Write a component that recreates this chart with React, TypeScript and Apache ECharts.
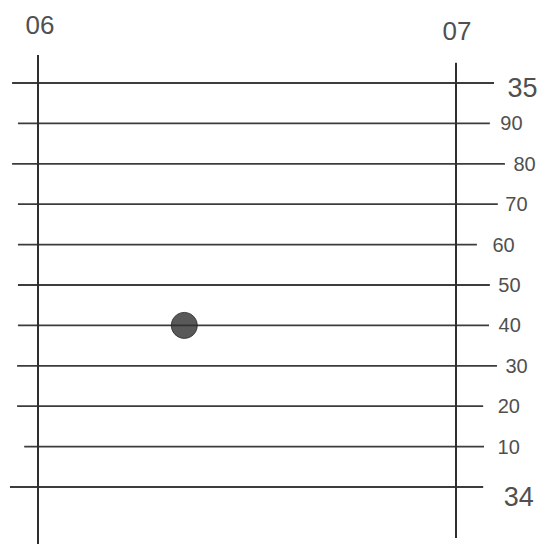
import React, { useEffect, useRef } from "react";
import * as echarts from "echarts";

// Vertical meridians (longitude labels)
const meridianValues = [6, 7];
const meridianLabels = ["06", "07"];
const meridianTop = [35.069, 35.05];
const meridianBottom = [33.859, 33.874];

// Horizontal parallels (latitude levels, top to bottom)
const parallelValues = [35, 34.9, 34.8, 34.7, 34.6, 34.5, 34.4, 34.3, 34.2, 34.1, 34];
const parallelLabels = ["35", "90", "80", "70", "60", "50", "40", "30", "20", "10", "34"];
const parallelStart = [5.938, 5.952, 5.938, 5.952, 5.952, 5.952, 5.952, 5.95, 5.95, 5.967, 5.933];
const parallelEnd = [7.091, 7.081, 7.117, 7.1, 7.05, 7.081, 7.079, 7.098, 7.065, 7.067, 7.065];
const labelGap = [13, 10, 8, 7, 15, 8, 9, 8, 14, 13, 20];

// Plotted position
const pointX = [6.35];
const pointY = [34.4];

export default function App() {
  const ref = useRef<HTMLDivElement>(null);

  useEffect(() => {
    if (!ref.current) return;
    const chart = echarts.init(ref.current, undefined, { renderer: "svg" });
    const textColor = "#505050";
    const font = "Liberation Sans";
    // axis ranges chosen so that 06..07 and 34..35 sit where the reference frame is
    const xMin = 6 - 38 / 418;
    const xMax = 6 + (545 - 38) / 418;
    const yMin = 34 - 57 / 404;
    const yMax = 35 + 83 / 404;

    const hidden = { color: "rgba(0,0,0,0)" };

    const parallelSeries = parallelValues.map((y, i) => {
      const major = i === 0 || i === parallelValues.length - 1;
      return {
        type: "line",
        symbol: "circle",
        symbolSize: 1,
        showSymbol: true,
        silent: true,
        itemStyle: hidden,
        label: { show: false },
        lineStyle: { color: "#3c3c3c", width: 1.8 },
        data: [
          [parallelStart[i], y],
          {
            value: [parallelEnd[i], y],
            label: {
              show: true,
              position: "right",
              distance: labelGap[i],
              formatter: parallelLabels[i],
              color: textColor,
              fontFamily: font,
              fontSize: major ? 27 : 20,
              offset: [0, i === 0 ? 5 : major ? 10 : 0],
            },
          },
        ],
      };
    });

    const meridianSeries = meridianValues.map((x, i) => ({
      type: "line",
      symbol: "circle",
      symbolSize: 1,
      showSymbol: true,
      silent: true,
      itemStyle: hidden,
      label: { show: false },
      lineStyle: { color: "#2e2e2e", width: 2 },
      data: [
        [x, meridianBottom[i]],
        {
          value: [x, meridianTop[i]],
          label: {
            show: true,
            position: "top",
            distance: i === 0 ? 17 : 18,
            formatter: meridianLabels[i],
            color: textColor,
            fontFamily: font,
            fontSize: 26,
            offset: [i === 0 ? 2 : 1, 0],
          },
        },
      ],
    }));

    chart.setOption({
      animation: false,
      backgroundColor: "#ffffff",
      grid: { left: 0, right: 0, top: 0, bottom: 0, containLabel: false },
      xAxis: { type: "value", min: xMin, max: xMax, show: false },
      yAxis: { type: "value", min: yMin, max: yMax, show: false },
      series: [
        ...parallelSeries,
        ...meridianSeries,
        {
          type: "scatter",
          symbol: "circle",
          symbolSize: 26,
          z: 10,
          itemStyle: {
            color: "#2f2f2f",
            borderColor: "#262626",
            borderWidth: 1,
            decal: {
              symbol: "circle",
              symbolSize: 0.5,
              color: "rgba(170,170,170,0.4)",
              dashArrayX: 3,
              dashArrayY: 3,
            },
          },
          data: pointX.map((x, i) => [x, pointY[i]]),
        },
      ],
    });
    return () => chart.dispose();
  }, []);

  return (
    <div
      ref={ref}
      style={{ position: "absolute", left: 0, top: 0, width: 545, height: 544, background: "#fff" }}
    />
  );
}
